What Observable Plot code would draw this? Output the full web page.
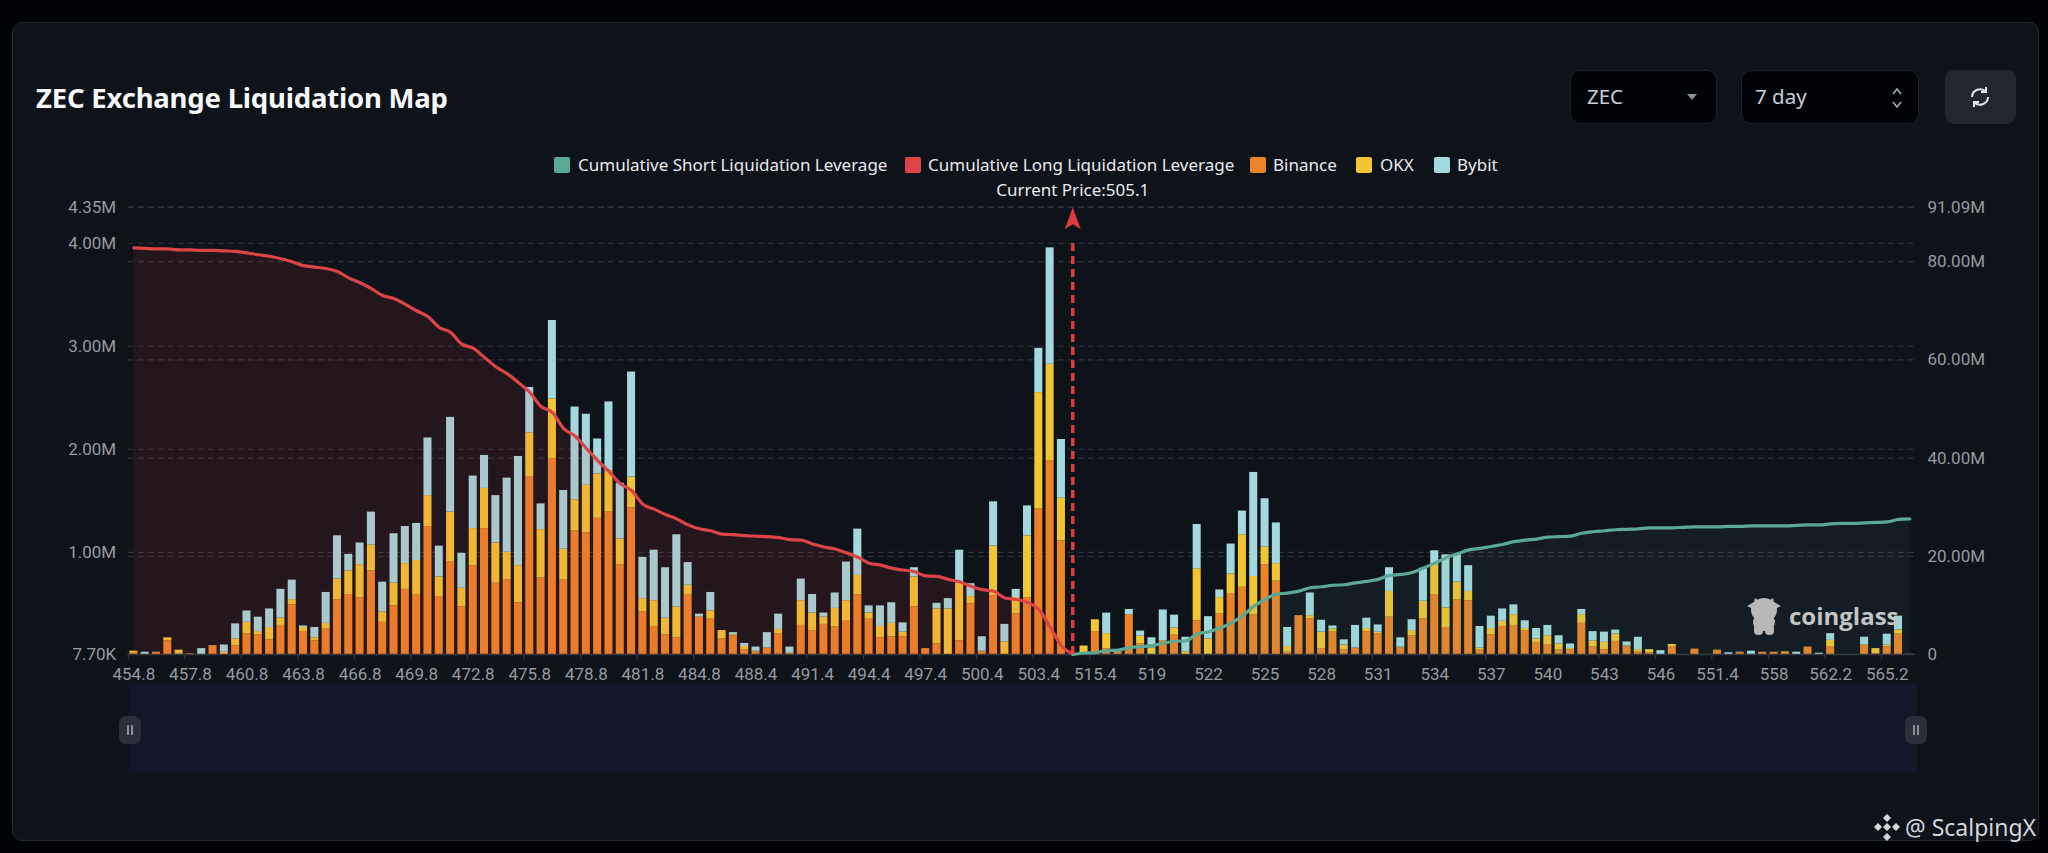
<!DOCTYPE html>
<html><head><meta charset="utf-8">
<script src="https://cdn.jsdelivr.net/npm/d3@7"></script>
<script src="https://cdn.jsdelivr.net/npm/@observablehq/plot@0.6"></script>
<style>
html,body{margin:0;padding:0;background:#020308;width:2048px;height:853px;overflow:hidden;font-family:"Noto Sans",sans-serif}
#panel{position:absolute;left:12px;top:22px;width:2027px;height:819px;background:#0e1219;border:1px solid #23272e;border-radius:10px;box-sizing:border-box}
#title{position:absolute;left:36px;top:78px;font-size:27.5px;font-weight:700;color:#f7f8fa;line-height:40px;white-space:nowrap;letter-spacing:-.2px}
.ctl{position:absolute;top:70px;height:54px;background:#020308;border:1px solid #1c2027;border-radius:10px;box-sizing:border-box;color:#c9ced6;font-size:20.5px;line-height:50px;padding-left:17px}
#refresh{position:absolute;left:1945px;top:70px;width:71px;height:54px;background:#22262e;border-radius:9px}
.lg{position:absolute;top:157px;width:16px;height:16px;border-radius:2px}
.lt{position:absolute;top:153px;font-size:17px;line-height:24px;color:#e8eaee;white-space:nowrap}
#slider{position:absolute;left:129px;top:684px;width:1788px;height:89px;background:#111827}
.h{position:absolute;top:716px;width:22px;height:28px;border-radius:7px;background:#2a2f3a}
.h:after{content:"";position:absolute;left:8px;top:9px;width:2px;height:10px;border-left:2px solid #8b8f98;border-right:2px solid #8b8f98}
#plot{position:absolute;left:0;top:130px}
#cg{position:absolute;left:1789px;top:592px;font-size:24px;font-weight:700;color:#c4c4c4;line-height:48px;letter-spacing:0;font-family:"Open Sans",sans-serif}
#sx{position:absolute;left:1905px;top:811px;font-size:23px;color:#d4d6da;line-height:32px;white-space:nowrap}
svg.icon{position:absolute;overflow:visible}
</style></head><body>
<div id="panel"></div>
<div id="slider"></div>
<div class="h" style="left:119px"></div>
<div class="h" style="left:1905px"></div>
<div id="plot"></div>
<div id="title">ZEC Exchange Liquidation Map</div>
<div class="ctl" style="left:1570px;width:147px;padding-left:16px">ZEC<span style="position:absolute;left:116px;top:23px;width:0;height:0;border-left:5px solid transparent;border-right:5px solid transparent;border-top:6px solid #8d9199"></span></div>
<div class="ctl" style="left:1741px;width:178px;padding-left:13px">7 day<svg class="icon" style="left:150px;top:16px" width="10" height="22"><path d="M1 7L5 2L9 7M1 15L5 20L9 15" fill="none" stroke="#a9adb5" stroke-width="1.5"/></svg></div>
<div id="refresh"><svg class="icon" style="left:23px;top:15px" width="24" height="24" viewBox="0 0 24 24"><path d="M4 12A8 8 0 0 1 18 7M20 12A8 8 0 0 1 6 17M18 2V7H13M6 22V17H11" fill="none" stroke="#e2e4e8" stroke-width="2"/></svg></div>
<div id="legend"></div>
<svg class="icon" style="left:1747px;top:597px" width="34" height="40" viewBox="0 0 34 40"><g fill="#b8b8b8"><ellipse cx="17" cy="13" rx="13" ry="12"/><path d="M0 9L7 5L8 13ZM34 9L27 5L26 13ZM8 1L12 4L7 6ZM26 1L22 4L27 6Z"/><ellipse cx="17" cy="25" rx="11" ry="9"/><rect x="7" y="27" width="9" height="11" rx="4"/><rect x="18" y="27" width="9" height="11" rx="4"/></g></svg>
<div id="cg">coinglass</div>
<svg class="icon" style="left:1874px;top:814px" width="26" height="27" viewBox="0 0 26 27"><g fill="#d4d6da"><path d="M13 0L17 4L13 8L9 4Z"/><path d="M4 9L8 13L4 17L0 13Z"/><path d="M22 9L26 13L22 17L18 13Z"/><path d="M13 9L17 13L13 17L9 13Z"/><path d="M13 19L17 23L13 27L9 23Z"/></g></svg>
<div id="sx">@ ScalpingX</div>
<script>
const seriesNames=["Cumulative Short Liquidation Leverage","Cumulative Long Liquidation Leverage","Binance","OKX","Bybit"];
const seriesColors=["#5ba995","#dd4447","#ec8427","#f2c534","#a3d8dc"];
const priceLabels=["454.8","457.8","460.8","463.8","466.8","469.8","472.8","475.8","478.8","481.8","484.8","488.4","491.4","494.4","497.4","500.4","503.4","515.4","519","522","525","528","531","534","537","540","543","546","551.4","558","562.2","565.2"];
const currentPriceIndex=83;
const currentPriceText="Current Price:505.1";
// values in millions
const binance=[.02,0,.03,.14,.01,.015,0,.09,0,.09,
.21,.20,.15,.29,.49,.23,.14,.26,.54,.59,
.56,.82,.32,.48,.64,.59,1.25,.57,.91,.47,
.87,1.23,.70,.73,.51,1.73,.75,1.91,.73,1.21,
1.19,1.33,1.39,.88,1.43,.42,.28,.20,.17,.59,
.37,.35,.16,.19,.055,.03,.07,.21,.01,.29,
.24,.30,.275,.33,.585,.35,.17,.18,.18,.47,
.065,.11,0,.14,.50,.03,.58,0,.40,.56,
1.42,1.89,1.11,0,.01,.23,.065,.04,.395,.11,
0,.135,.195,0,.335,0,.40,.60,.66,.395,
.88,.72,.03,.385,.355,.065,.23,.05,.07,.23,
.21,.37,.07,.19,.355,.59,.27,.54,.53,.05,
.20,.28,.29,.24,.125,.105,.05,.05,.31,.08,
.055,.135,.08,.03,.025,0,.08,.003,.06,0,
.045,0,.025,0,.03,.03,.03,0,.08,0,
.085,.005,.003,.095,.015,.08,.205,.01];
const okx=[.02,0,0,.03,.04,0,.005,.005,.03,.07,
.11,.03,.12,.07,.05,.04,.03,.05,.20,.23,
.32,.25,.10,.22,.25,.33,.30,.19,.48,.18,
.36,.39,.39,.27,.36,.43,.47,.58,.30,.30,
.46,.43,.40,.25,.30,.13,.25,.16,.30,.09,
0,.08,.08,.01,.03,.01,0,.04,.01,.24,
.17,.07,.18,.20,.19,.06,.11,.13,.045,.29,
0,.34,.45,.56,.07,.01,.48,.13,.16,.60,
1.13,.935,.415,0,.08,.115,.145,0,0,.075,
.07,.005,.07,.035,.505,.16,.16,.19,.51,.37,
.17,.17,.055,0,.03,.16,.025,.05,0,.03,
.015,.25,.01,.05,.17,.29,.19,.17,.09,.02,
.06,.05,.105,.02,.035,.085,.06,.015,.085,.06,
.07,.07,.01,.025,.03,0,.025,0,0,0,
.005,0,.005,0,0,0,.005,0,0,0,
.06,0,0,.005,.05,.02,.04,0];
const bybit=[0,.03,0,0,0,0,.06,0,.07,.145,
.11,.14,.18,.28,.19,.015,.10,.30,.42,.16,
.21,.32,.29,.48,.36,.36,.56,.30,.92,.34,
.51,.32,.46,.72,1.06,.44,.25,.76,.57,.90,
.69,.34,.67,.54,1.02,.40,.49,.49,.70,.22,
.03,.18,0,.02,.03,.04,.15,.15,.06,.21,
.18,.04,.15,.375,.45,.07,.20,.20,.09,.09,
0,.055,.10,.32,.125,.14,.43,.17,.08,.29,
.43,1.13,.57,0,0,0,.20,0,.05,.05,
.10,.30,.125,.14,.43,.215,.075,.29,.23,1.01,
.47,.395,.185,0,.22,.115,.03,.05,.22,.10,
.07,.23,.09,.105,.32,.135,.515,.27,.25,.21,
.12,.12,.095,.075,.10,.10,.08,.045,.05,.09,
.10,.04,.04,.12,0,.045,0,0,0,.005,
0,.025,0,.04,0,0,0,.03,0,.02,
.065,0,0,.075,0,.105,.135,0];
const cumLong=[82.8,82.7,82.6,82.6,82.4,82.4,82.3,82.3,82.2,82.1,
81.8,81.4,81.1,80.6,80.0,79.2,78.9,78.6,78.0,76.7,
75.7,74.5,73.1,72.5,71.3,70.0,68.8,66.6,65.6,63.2,
62.4,60.5,58.6,57.2,55.4,53.4,50.5,49.3,46.0,44.5,
42.0,39.5,37.3,34.8,33.4,30.6,29.6,28.5,27.6,26.4,
25.6,25.2,24.5,24.4,24.2,24.1,24.0,23.8,23.4,23.3,
22.5,21.9,21.5,20.7,19.8,18.6,18.2,17.6,17.2,16.9,
16.0,15.9,15.3,14.8,13.9,13.2,12.9,11.5,11.2,10.6,
9.2,5.6,1.8,0.1];
const cumShort=[0,.3,.4,.8,.9,1.4,1.6,1.8,2.3,2.7,2.8,
4.2,4.6,5.4,6.4,7.9,9.8,11.2,12.3,12.5,12.9,
13.6,13.8,14.1,14.2,14.6,14.9,15.3,16.1,16.3,16.7,
17.6,18.6,19.7,20.5,21.3,21.6,22.0,22.4,23.0,23.3,
23.5,23.9,24.0,24.1,24.7,25.0,25.2,25.4,25.5,25.6,
25.8,25.8,25.8,25.9,26.0,26.0,26.0,26.1,26.1,26.2,
26.2,26.2,26.2,26.3,26.4,26.4,26.6,26.7,26.7,26.8,
26.9,27.0,27.5,27.6];
const leftTicks=[0.0077,1,2,3,4,4.35];
const leftLabels=["7.70K","1.00M","2.00M","3.00M","4.00M","4.35M"];
const rightTicks=[0,20,40,60,80,91.09];
const rightLabels=["0","20.00M","40.00M","60.00M","80.00M","91.09M"];

const yMin=leftTicks[0],yMax=leftTicks[5],rMax=rightTicks[5];
const toLeft=v=>yMin+v*(yMax-yMin)/rMax;
const idx=d3.range(binance.length);
const stacked=idx.flatMap(i=>[
 {i,v:binance[i],s:seriesNames[2]},{i,v:okx[i],s:seriesNames[3]},{i,v:bybit[i],s:seriesNames[4]}]);
const longRows=cumLong.map((v,i)=>({i,v:toLeft(v)}));
const shortRows=cumShort.map((v,k)=>({i:k+currentPriceIndex,v:toLeft(v)}));
const tickIdx=idx.filter(i=>i%5===0);
const grid="#2f333a";
const arrowHead={draw(c){c.moveTo(0,0);c.lineTo(8,22);c.lineTo(0,17);c.lineTo(-8,22);c.closePath();}};

const chart=Plot.plot({
 width:2048,height:570,marginTop:76.7,marginBottom:46,marginLeft:127.7,marginRight:133,
 style:{background:"transparent",fontFamily:"Roboto,sans-serif"},
 x:{type:"band",domain:idx,paddingInner:.29,paddingOuter:.145,align:.5,axis:null},
 y:{domain:[yMin,yMax],axis:null},
 color:{domain:seriesNames,range:seriesColors},
 marks:[
  Plot.ruleY(leftTicks,{stroke:grid,strokeDasharray:"6,4",strokeWidth:1.2}),
  Plot.ruleY(rightTicks.map(toLeft),{stroke:grid,strokeDasharray:"6,4",strokeWidth:1.2}),
  Plot.barY(stacked,{x:"i",y:"v",fill:"s",order:null,clip:true}),
  Plot.ruleY([yMin],{stroke:"#343840",strokeWidth:1.5}),
  Plot.areaY(longRows,{x:"i",y1:yMin,y2:"v",fill:seriesColors[1],fillOpacity:.1,curve:"monotone-x"}),
  Plot.areaY(shortRows,{x:"i",y1:yMin,y2:"v",fill:seriesColors[0],fillOpacity:.08,curve:"monotone-x"}),
  Plot.line(longRows,{x:"i",y:"v",stroke:seriesColors[1],strokeWidth:3.2,curve:"monotone-x"}),
  Plot.line(shortRows,{x:"i",y:"v",stroke:seriesColors[0],strokeWidth:3.2,curve:"monotone-x"}),
  Plot.ruleX([currentPriceIndex],{y1:yMin,y2:toLeft(84.5),stroke:"#dc3b3f",strokeWidth:3.5,strokeDasharray:"8,5"}),
  Plot.dot([currentPriceIndex],{x:d=>d,y:yMax,symbol:arrowHead,fill:"#dc3b3f",stroke:"none"}),
  Plot.text([currentPriceText],{x:[currentPriceIndex],y:[yMax],dy:-17,fill:"#e8eaee",fontSize:17,fontFamily:"Noto Sans,sans-serif"}),
  Plot.axisY({anchor:"left",ticks:leftTicks,tickSize:0,tickPadding:12,label:null,fontSize:17,fill:"#979aa1",tickFormat:d=>leftLabels[leftTicks.indexOf(d)]}),
  Plot.axisY({anchor:"right",ticks:rightTicks.map(toLeft),tickSize:0,tickPadding:12,label:null,fontSize:17,fill:"#979aa1",tickFormat:d=>rightLabels[rightTicks.map(toLeft).indexOf(d)]}),
  Plot.axisX({ticks:tickIdx,tickSize:5,stroke:"#343840",text:null,dx:-5.65,label:null}),
  Plot.axisX({ticks:tickIdx,tickSize:0,tickPadding:13,label:null,fontSize:17,fill:"#979aa1",tickFormat:d=>priceLabels[d/5]})
 ]
});
document.getElementById("plot").appendChild(chart);

const lgPos=[[554,578],[905,928],[1250,1273],[1356,1380],[1434,1457]];
document.getElementById("legend").innerHTML=seriesNames.map((n,k)=>
 `<div class="lg" style="left:${lgPos[k][0]}px;background:${seriesColors[k]}"></div><div class="lt" style="left:${lgPos[k][1]}px">${n}</div>`).join("");
</script>
</body></html>
